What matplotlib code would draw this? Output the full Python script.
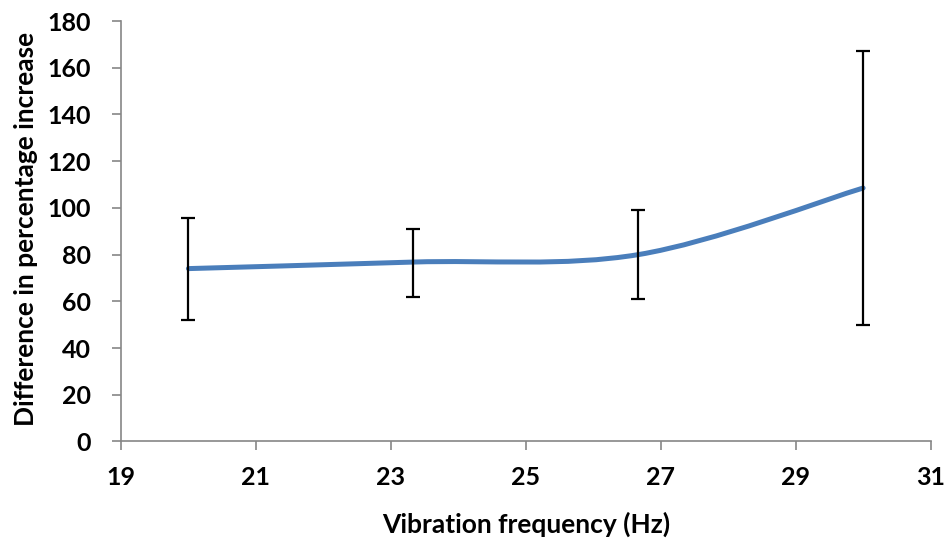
import matplotlib
matplotlib.use("Agg")
import matplotlib.pyplot as plt
from matplotlib.path import Path
from matplotlib.patches import PathPatch

# Data
freq = [20, 23.33, 26.67, 30]
diff = [74, 76.8, 80, 108.5]
err_low = [52, 62, 61, 49.7]
err_high = [95.5, 91, 99, 167]

yerr = [[d - lo for d, lo in zip(diff, err_low)],
        [hi - d for d, hi in zip(diff, err_high)]]

plt.rcParams["font.family"] = ["Lato", "DejaVu Sans"]
plt.rcParams["font.weight"] = "bold"

fig = plt.figure(figsize=(9.48, 5.39), dpi=100)
ax = fig.add_axes([0.1276, 0.181, 0.854, 0.78])

# smoothed line (Excel-like Catmull-Rom bezier)
pts = list(zip(freq, diff))
verts = [pts[0]]
codes = [Path.MOVETO]
n = len(pts)
for i in range(n - 1):
    p0 = pts[max(i - 1, 0)]
    p1 = pts[i]
    p2 = pts[i + 1]
    p3 = pts[min(i + 2, n - 1)]
    c1 = (p1[0] + (p2[0] - p0[0]) / 6, p1[1] + (p2[1] - p0[1]) / 6)
    c2 = (p2[0] - (p3[0] - p1[0]) / 6, p2[1] - (p3[1] - p1[1]) / 6)
    verts += [c1, c2, p2]
    codes += [Path.CURVE4] * 3
ax.add_patch(PathPatch(Path(verts, codes), fill=False, edgecolor="#4A7EBB",
                       lw=3.6, capstyle="round", zorder=2))

ax.errorbar(freq, diff, yerr=yerr, fmt="none", ecolor="black",
            elinewidth=1.6, capsize=5, capthick=1.6, zorder=3)

ax.set_xlim(19, 31)
ax.set_ylim(0, 180)
ax.set_xticks(range(19, 32, 2))
ax.set_yticks(range(0, 181, 20))

for s in ["top", "right"]:
    ax.spines[s].set_visible(False)
for s in ["left", "bottom"]:
    ax.spines[s].set_color("#868686")
    ax.spines[s].set_linewidth(1.2)
ax.tick_params(axis="both", colors="#868686", length=6.5, width=1.2,
               labelcolor="black", labelsize=18)
ax.tick_params(axis="x", pad=11)
ax.tick_params(axis="y", pad=15)

ax.set_xlabel("Vibration frequency (Hz)", fontsize=19, fontweight="bold")
ax.set_ylabel("Difference in percentage increase", fontsize=19,
              fontweight="bold")
ax.xaxis.set_label_coords(0.5, -0.168)
ax.yaxis.set_label_coords(-0.103, 0.505)

fig.savefig("out.png", dpi=100)
